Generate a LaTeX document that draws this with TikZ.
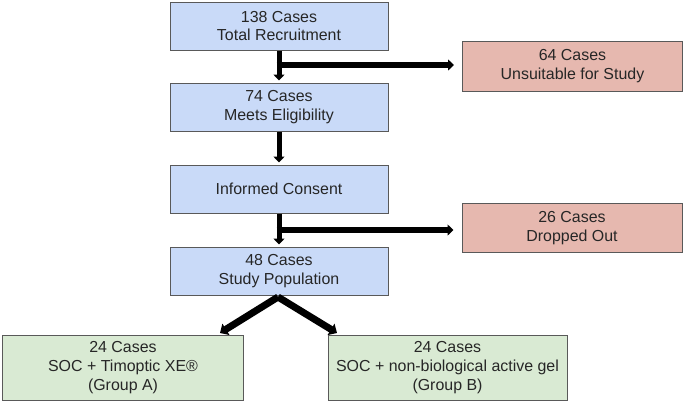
\documentclass[tikz,border=0pt]{standalone}
\usepackage{fontspec}
\setmainfont{Liberation Sans}
\usetikzlibrary{arrows.meta}
\definecolor{bluefill}{HTML}{C9DAF8}
\definecolor{redfill}{HTML}{E6B8AF}
\definecolor{greenfill}{HTML}{D9EAD3}
\definecolor{edgegray}{HTML}{595959}
\definecolor{txtgray}{HTML}{262626}
\tikzset{
  box/.style={draw=edgegray, line width=1bp, align=center, inner sep=0pt,
    font=\fontsize{16}{19}\selectfont, text=txtgray},
  bluebox/.style={box, fill=bluefill, minimum width=218bp, minimum height=48bp},
  redbox/.style={box, fill=redfill, minimum width=220bp, minimum height=50bp},
  greenbox/.style={box, fill=greenfill, minimum width=240bp, minimum height=65bp},
  flow/.style={line width=5bp, -{Triangle[width=11bp,length=6bp]}, shorten >=2bp},
  side/.style={line width=5.5bp, -{Triangle[width=11bp,length=6bp]}, shorten >=8bp},
  split/.style={line width=7bp, -{Triangle[width=13bp,length=7bp]}}
}
\begin{document}
\begin{tikzpicture}[x=1bp,y=-1bp]
\useasboundingbox (0,0) rectangle (685,403);
\node[bluebox] (b1) at (279,26) {138 Cases\\Total Recruitment};
\node[bluebox] (b2) at (279,107) {74 Cases\\Meets Eligibility};
\node[bluebox] (b3) at (279,189) {Informed Consent};
\node[bluebox] (b4) at (279,271) {48 Cases\\Study Population};
\node[redbox] (r1) at (572.5,66) {64 Cases\\Unsuitable for Study};
\node[redbox, minimum height=49bp] (r2) at (572,228) {26 Cases\\Dropped Out};
\node[greenbox] (g1) at (123,367.5) {24 Cases\\SOC + Timoptic XE®\\(Group A)};
\node[greenbox, minimum width=239bp] (g2) at (447.5,367.5) {24 Cases\\SOC + non-biological active gel\\(Group B)};
\coordinate (ta) at (220,333);
\coordinate (tb) at (337,333);
\coordinate (apex) at (278,297);
\draw[flow] (b1.south) -- (b2.north);
\draw[side] ([xshift=-2.5bp]b1.south |- 0,65) -- (r1.west |- 0,65);
\draw[flow] (b2.south) -- (b3.north);
\draw[flow] (b3.south) -- (b4.north);
\draw[side] ([xshift=-2.5bp]b3.south |- 0,230) -- (r2.west |- 0,230);
\draw[split] (apex) -- (ta);
\draw[split] (apex) -- (tb);
\end{tikzpicture}
\end{document}
